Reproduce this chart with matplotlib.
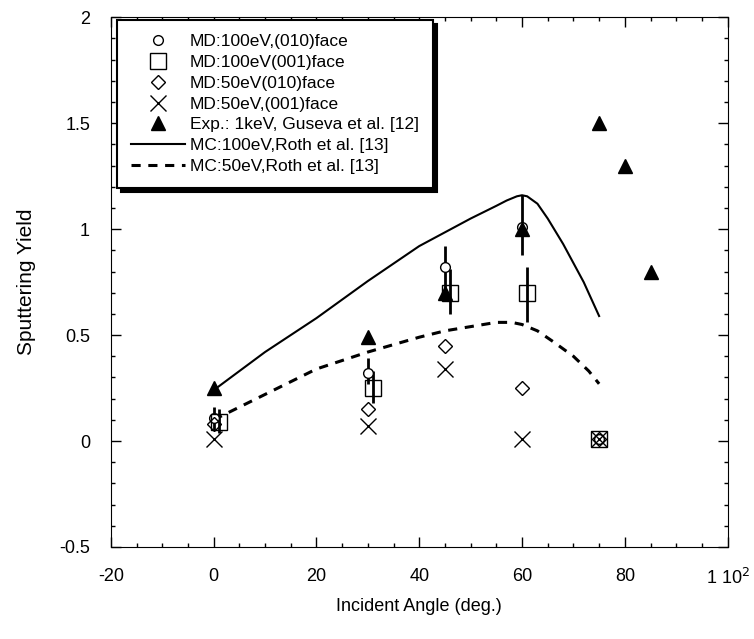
import matplotlib.pyplot as plt
from matplotlib.ticker import MultipleLocator

plt.rcParams['font.family'] = ['Liberation Sans', 'DejaVu Sans']

# MD 100 eV, (010) face
md100_010_x = [0, 30, 45, 60, 75]
md100_010_y = [0.11, 0.32, 0.82, 1.01, 0.01]
md100_010_lo = [0.05, 0.27, 0.68, 0.88, 0.01]
md100_010_hi = [0.16, 0.39, 0.92, 1.16, 0.01]

# MD 100 eV, (001) face
md100_001_x = [1, 31, 46, 61, 75]
md100_001_y = [0.09, 0.25, 0.70, 0.70, 0.01]
md100_001_lo = [0.04, 0.18, 0.60, 0.56, 0.01]
md100_001_hi = [0.15, 0.33, 0.81, 0.82, 0.01]

# MD 50 eV
md50_010_x = [0, 30, 45, 60, 75]
md50_010_y = [0.08, 0.15, 0.45, 0.25, 0.01]
md50_001_x = [0, 30, 45, 60, 75]
md50_001_y = [0.01, 0.07, 0.34, 0.01, 0.01]

# Experiment, 1 keV
exp_x = [0, 30, 45, 60, 75, 80, 85]
exp_y = [0.25, 0.49, 0.70, 1.00, 1.50, 1.30, 0.80]

# MC curves
mc100_x = [0, 10, 20, 30, 40, 45, 50, 55, 57, 59, 60, 61, 63, 65, 68, 70, 72, 75]
mc100_y = [0.24, 0.42, 0.58, 0.755, 0.92, 0.985, 1.05, 1.11, 1.135, 1.155, 1.16, 1.155, 1.12, 1.05, 0.93, 0.84, 0.75, 0.59]
mc50_x = [0, 10, 20, 30, 40, 45, 50, 55, 58, 60, 63, 66, 70, 73, 75]
mc50_y = [0.10, 0.22, 0.34, 0.42, 0.49, 0.52, 0.54, 0.56, 0.56, 0.55, 0.52, 0.47, 0.40, 0.33, 0.27]

x_ticks = [-20, 0, 20, 40, 60, 80, 100]
x_labels = ['-20', '0', '20', '40', '60', '80', '1 10$^2$']
y_ticks = [-0.5, 0, 0.5, 1, 1.5, 2]
y_labels = ['-0.5', '0', '0.5', '1', '1.5', '2']

fig = plt.figure(figsize=(7.54, 6.39), dpi=100)
ax = fig.add_axes([0.147, 0.144, 0.818, 0.829])

ax.plot(mc100_x, mc100_y, color='black', lw=1.5, label='MC:100eV,Roth et al. [13]')
ax.plot(mc50_x, mc50_y, color='black', lw=2.2, ls=(0, (3, 2.5)), label='MC:50eV,Roth et al. [13]')

# error bars
ax.vlines(md100_010_x, md100_010_lo, md100_010_hi, color='black', lw=2)
ax.vlines(md100_001_x, md100_001_lo, md100_001_hi, color='black', lw=2)

ax.plot(md100_010_x, md100_010_y, 'o', mfc='white', mec='black', mew=1, ms=7,
        ls='none', label='MD:100eV,(010)face')
ax.plot(md100_001_x, md100_001_y, 's', mfc='none', mec='black', mew=1, ms=11,
        ls='none', label='MD:100eV(001)face')
ax.plot(md50_010_x, md50_010_y, 'D', mfc='none', mec='black', mew=1, ms=7.5,
        ls='none', label='MD:50eV(010)face')
ax.plot(md50_001_x, md50_001_y, 'x', color='black', mew=1, ms=12,
        ls='none', label='MD:50eV,(001)face')
ax.plot(exp_x, exp_y, '^', color='black', ms=10, ls='none',
        label='Exp.: 1keV, Guseva et al. [12]')

ax.set_xlim(-20, 100)
ax.set_ylim(-0.5, 2)
ax.set_xticks(x_ticks)
ax.set_xticklabels(x_labels)
ax.set_yticks(y_ticks)
ax.set_yticklabels(y_labels)
ax.xaxis.set_minor_locator(MultipleLocator(5))
ax.yaxis.set_minor_locator(MultipleLocator(0.1))
ax.tick_params(which='both', direction='in', top=True, right=True, labelsize=13, width=1)
ax.tick_params(which='major', length=7, pad=15)
ax.tick_params(which='minor', length=3)
ax.set_xlabel('Incident Angle (deg.)', fontsize=13, labelpad=7)
ax.set_ylabel('Sputtering Yield', fontsize=15, labelpad=17)

handles, labels = ax.get_legend_handles_labels()
order = [2, 3, 4, 5, 6, 0, 1]
leg = ax.legend([handles[i] for i in order], [labels[i] for i in order],
                loc='upper left', bbox_to_anchor=(0.01, 0.995), borderaxespad=0,
                fontsize=12.5, frameon=True, fancybox=False, handlelength=3.1,
                handletextpad=0.3, labelspacing=0.33, borderpad=0.8,
                shadow={'color': 'black', 'alpha': 1, 'ox': 3, 'oy': -3})
leg.get_frame().set_edgecolor('black')
leg.get_frame().set_linewidth(1.5)

fig.savefig('out.png', dpi=100)
